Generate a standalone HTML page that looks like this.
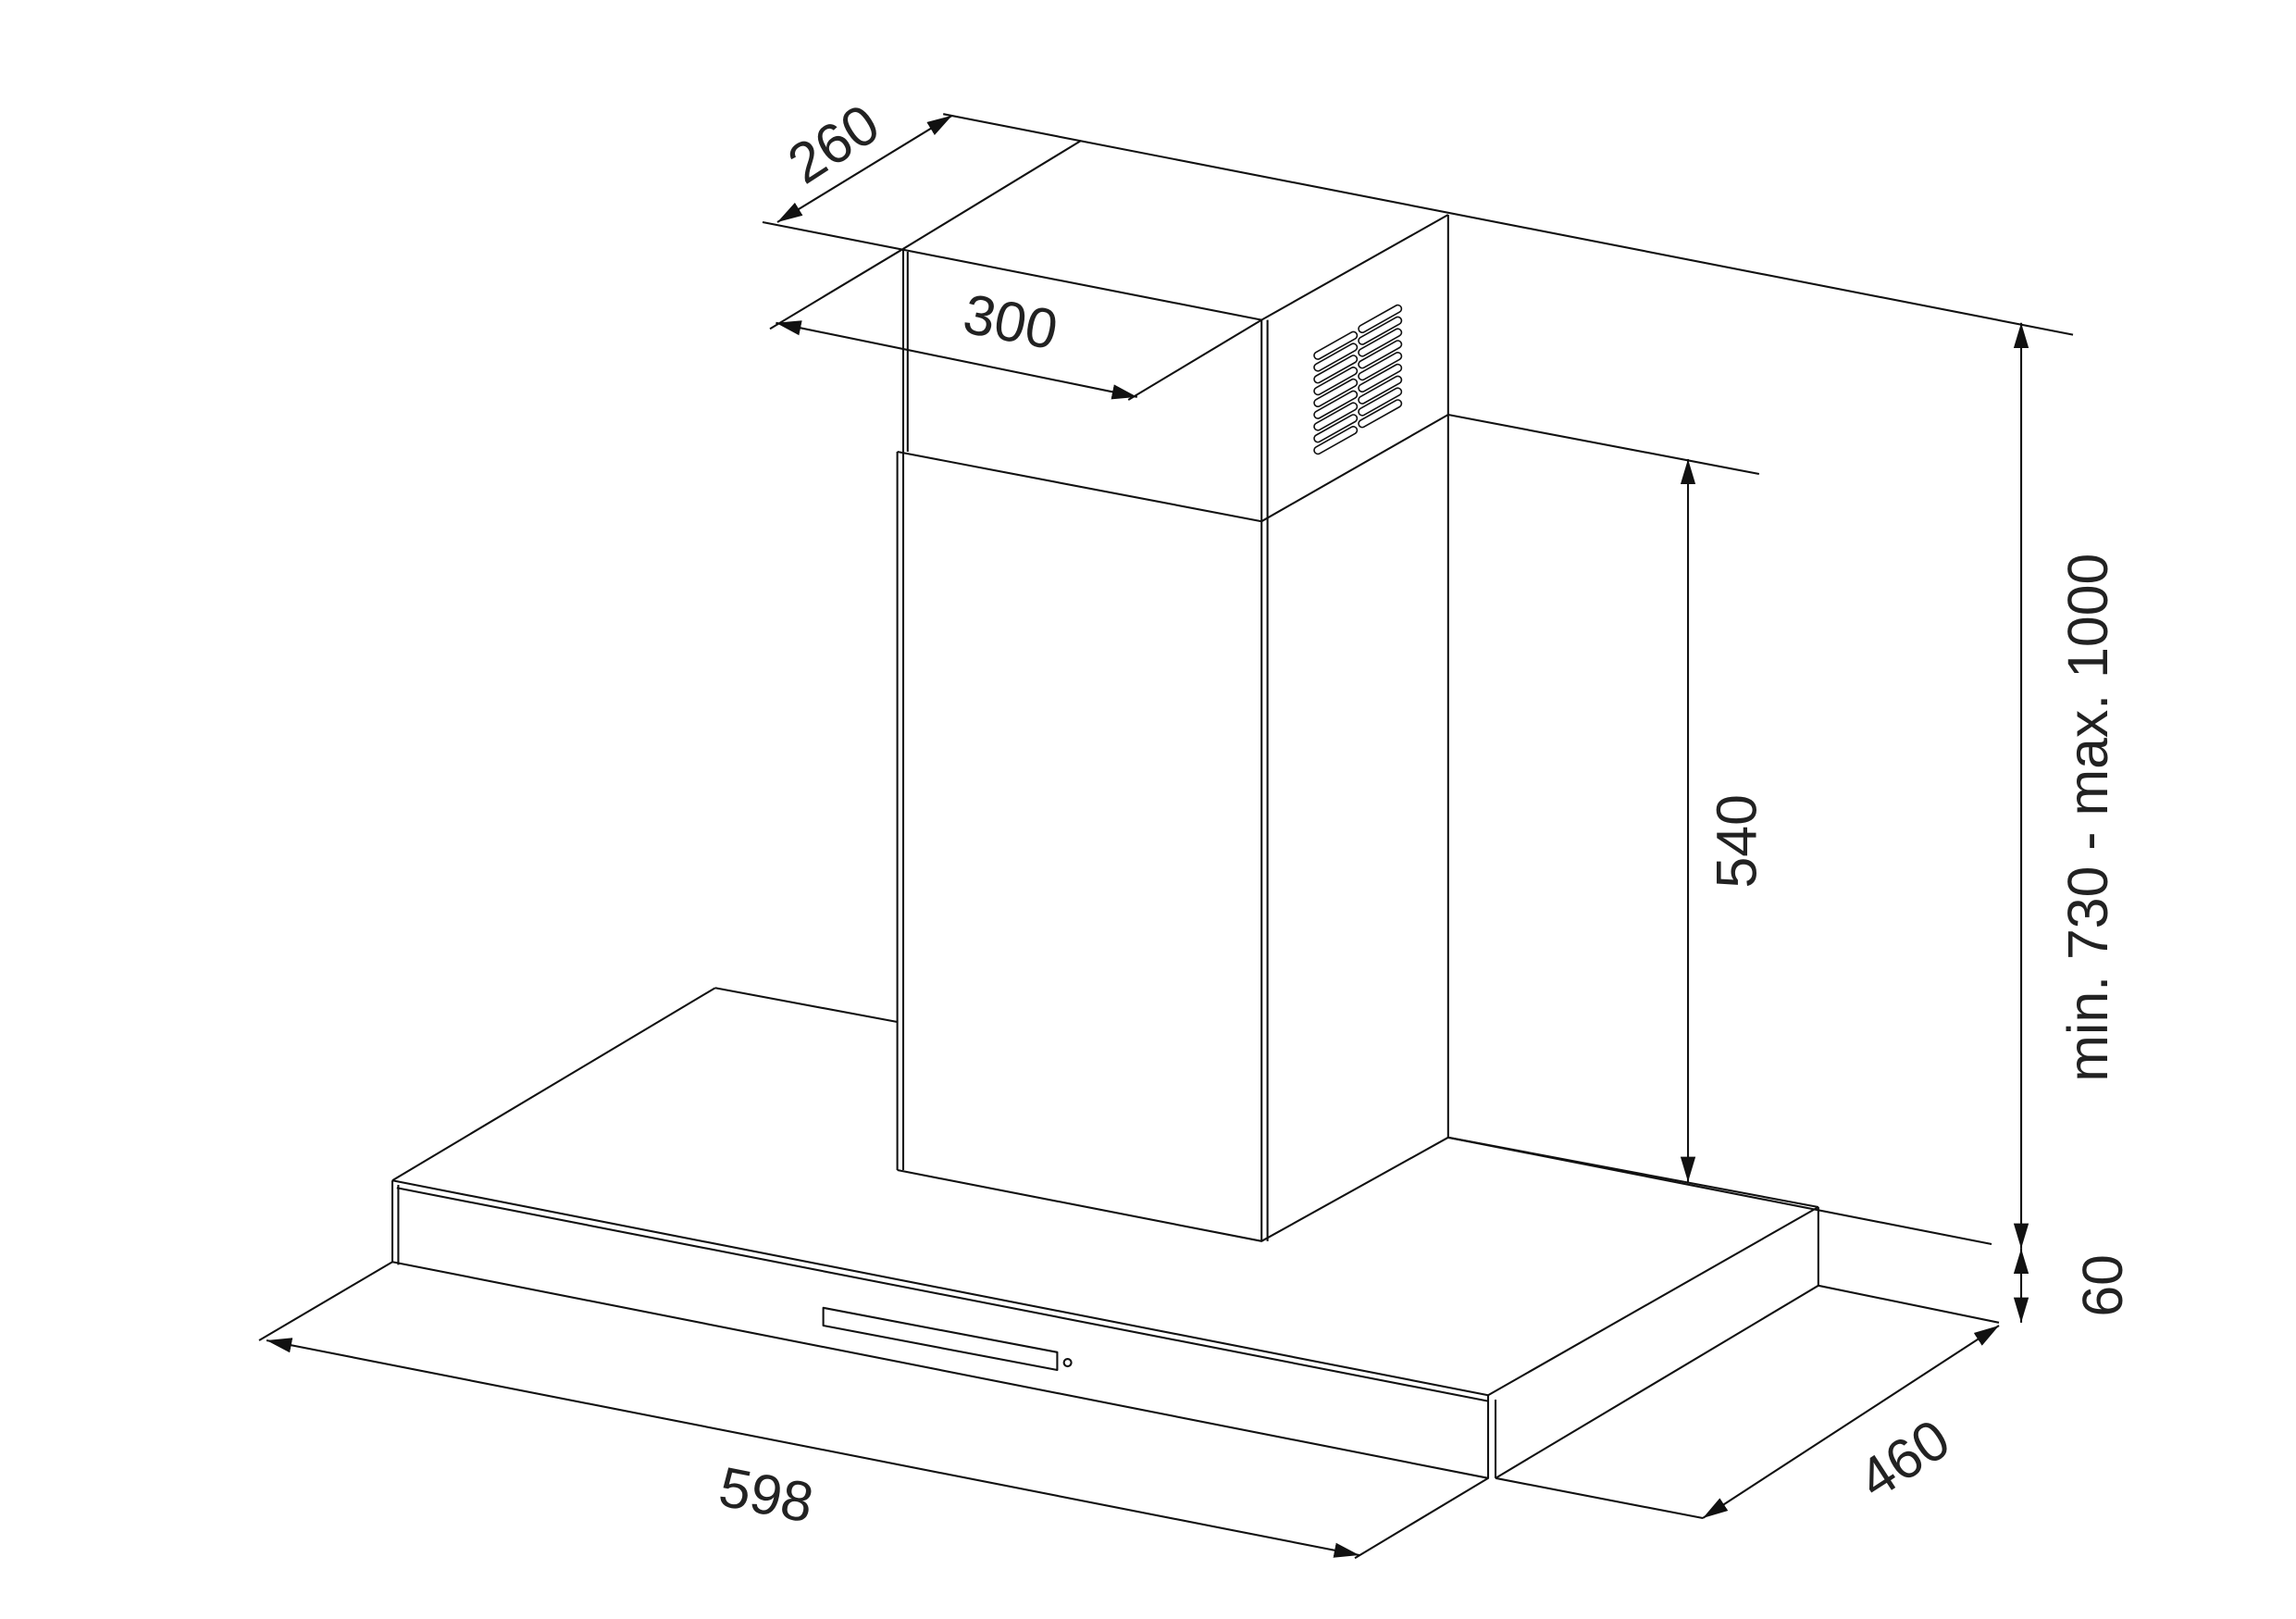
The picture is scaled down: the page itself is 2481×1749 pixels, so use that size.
<!DOCTYPE html>
<html><head><style>html,body{margin:0;padding:0;background:#fff}svg{display:block}</style></head><body>
<svg width="2481" height="1749" viewBox="0 0 1550.6 1093.1" xmlns="http://www.w3.org/2000/svg">
<defs><marker id="a" viewBox="0 0 10 10" refX="10" refY="5" markerWidth="17" markerHeight="17" markerUnits="userSpaceOnUse" orient="auto-start-reverse"><path d="M0,2 L10,5 L0,8 z" fill="#111"/></marker>
<g id="s"><path d="M0,0 l24,-13.5" stroke="#111" stroke-width="6" stroke-linecap="round"/><path d="M0,0 l24,-13.5" stroke="#fff" stroke-width="4" stroke-linecap="round"/></g></defs>
<g fill="none" stroke="#111" stroke-width="1.3" stroke-linejoin="round">
<path d="M515,150 L852,216"/>
<path d="M637,77 L1400,226"/>
<path d="M730,95 L610,168"/>
<path d="M978,145 L852,216"/>
<path d="M610,168 L610,305"/><path d="M613,170 L613,305"/>
<path d="M606,305 L852,352 L978,280"/>
<path d="M852,216 L852,838"/><path d="M856,216 L856,838"/>
<path d="M978,145 L978,768"/>
<path d="M978,280 L1188,320"/>
<path d="M606,305 L606,790"/><path d="M610,305 L610,790"/>
<path d="M606,790 L852,838 L978,768"/>
<path d="M483,667 L606,690"/>
<path d="M483,667 L265,797"/>
<path d="M265,797 L1005,942 L1228,815"/>
<path d="M268,802 L1005,946"/>
<path d="M978,768 L1228,815"/>
<path d="M265,797 L265,852 L1005,998 L1005,942"/><path d="M269,800 L269,854"/>
<path d="M1010,945 L1010,998"/>
<path d="M1228,815 L1228,868 L1010,998"/>
<path d="M556,883 L714,913 L714,925 L556,895 Z"/>
<circle cx="721" cy="920" r="2.5"/>
<path d="M265,852 L175,905"/><path d="M1005,998 L915,1052"/>
<path d="M180,905 L918,1050" marker-start="url(#a)" marker-end="url(#a)"/>
<path d="M1228,868 L1350,893"/><path d="M1010,998 L1150,1025"/>
<path d="M1150,1025 L1350,895" marker-start="url(#a)" marker-end="url(#a)"/>
<path d="M978,768 L1345,840"/>
<path d="M1365,843 L1365,893" marker-start="url(#a)" marker-end="url(#a)"/>
<path d="M1365,218 L1365,843" marker-start="url(#a)" marker-end="url(#a)"/>
<path d="M1140,310 L1140,798" marker-start="url(#a)" marker-end="url(#a)"/>
<path d="M610,168 L520,222"/><path d="M852,216 L762,270"/>
<path d="M524,218 L768,268" marker-start="url(#a)" marker-end="url(#a)"/>
<path d="M525,150 L643,78" marker-start="url(#a)" marker-end="url(#a)"/>
</g>
<g>
<use href="#s" x="890" y="240"/><use href="#s" x="890" y="248"/><use href="#s" x="890" y="256"/><use href="#s" x="890" y="264"/><use href="#s" x="890" y="272"/><use href="#s" x="890" y="280"/><use href="#s" x="890" y="288"/><use href="#s" x="890" y="296"/><use href="#s" x="890" y="304"/>
<use href="#s" x="920" y="222"/><use href="#s" x="920" y="230"/><use href="#s" x="920" y="238"/><use href="#s" x="920" y="246"/><use href="#s" x="920" y="254"/><use href="#s" x="920" y="262"/><use href="#s" x="920" y="270"/><use href="#s" x="920" y="278"/><use href="#s" x="920" y="286"/>
</g>
<g font-family="Liberation Sans, sans-serif" font-size="38" fill="#222" text-anchor="middle">
<text transform="translate(515,1022) rotate(11)">598</text>
<text transform="translate(1293,996) rotate(-33)">460</text>
<text transform="translate(1433,868) rotate(-90)">60</text>
<text transform="translate(1423,552) rotate(-90)">min. 730 - max. 1000</text>
<text transform="translate(1186,568) rotate(-90)">540</text>
<text transform="translate(680,230) rotate(11)">300</text>
<text transform="translate(570,108) rotate(-33)">260</text>
</g>
</svg>
</body></html>
